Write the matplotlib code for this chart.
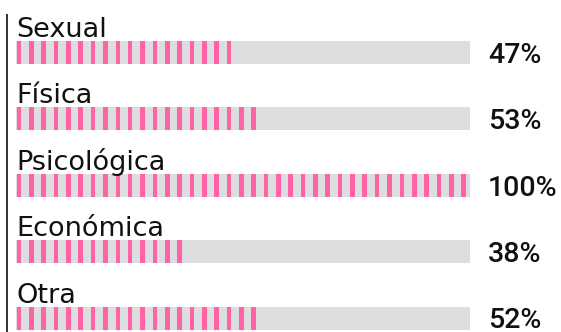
import numpy as np
import matplotlib.pyplot as plt

categories = ["Sexual", "Física", "Psicológica", "Económica", "Otra"]
values = [47, 53, 100, 38, 52]
labels = ["47%", "53%", "100%", "38%", "52%"]

pink = "#ff62a5"
track = "#dcdddf"

W, H = 561, 332
fig = plt.figure(figsize=(W / 100, H / 100), dpi=100)
ax = fig.add_axes([0, 0, 1, 1])

# pixel -> data mapping: bars run from x=16px to x=470px, rows every ~66px
x0, x1 = 16, 470
ppu = (x1 - x0) / 100.0
row0, row_step = 52.5, 66.4
ax.set_xlim(-x0 / ppu, (W - x0) / ppu)
ax.set_ylim((H - row0) / row_step, -row0 / row_step)
ax.axis("off")

bar_h = 23 / row_step
stripe_w = 4.6 / ppu
period = 12.35 / ppu
starts = 0.7 / ppu + np.arange(40) * period

for i, (cat, v, lab) in enumerate(zip(categories, values, labels)):
    ax.barh(i, 100, height=bar_h, left=0, color=track, zorder=1)
    s = starts[starts < v]
    ax.barh(np.full(len(s), i), stripe_w, height=bar_h, left=s,
            color=pink, linewidth=0, zorder=2)
    ax.text(0, i - 15.5 / row_step, cat, fontsize=19.5, family="DejaVu Sans",
            color="#111111", va="baseline", ha="left")
    ax.text((488 - x0) / ppu, i + 10.2 / row_step, lab, fontsize=20.5,
            family=["Roboto", "DejaVu Sans"], weight="medium",
            color="#111111", va="baseline", ha="left")

# thin axis line on the left
ax.plot([(7 - x0) / ppu] * 2, [14 / row_step - row0 / row_step, (H - row0) / row_step],
        color="#222222", lw=1.3, solid_capstyle="butt", zorder=3)

fig.savefig("out.png", dpi=100)
